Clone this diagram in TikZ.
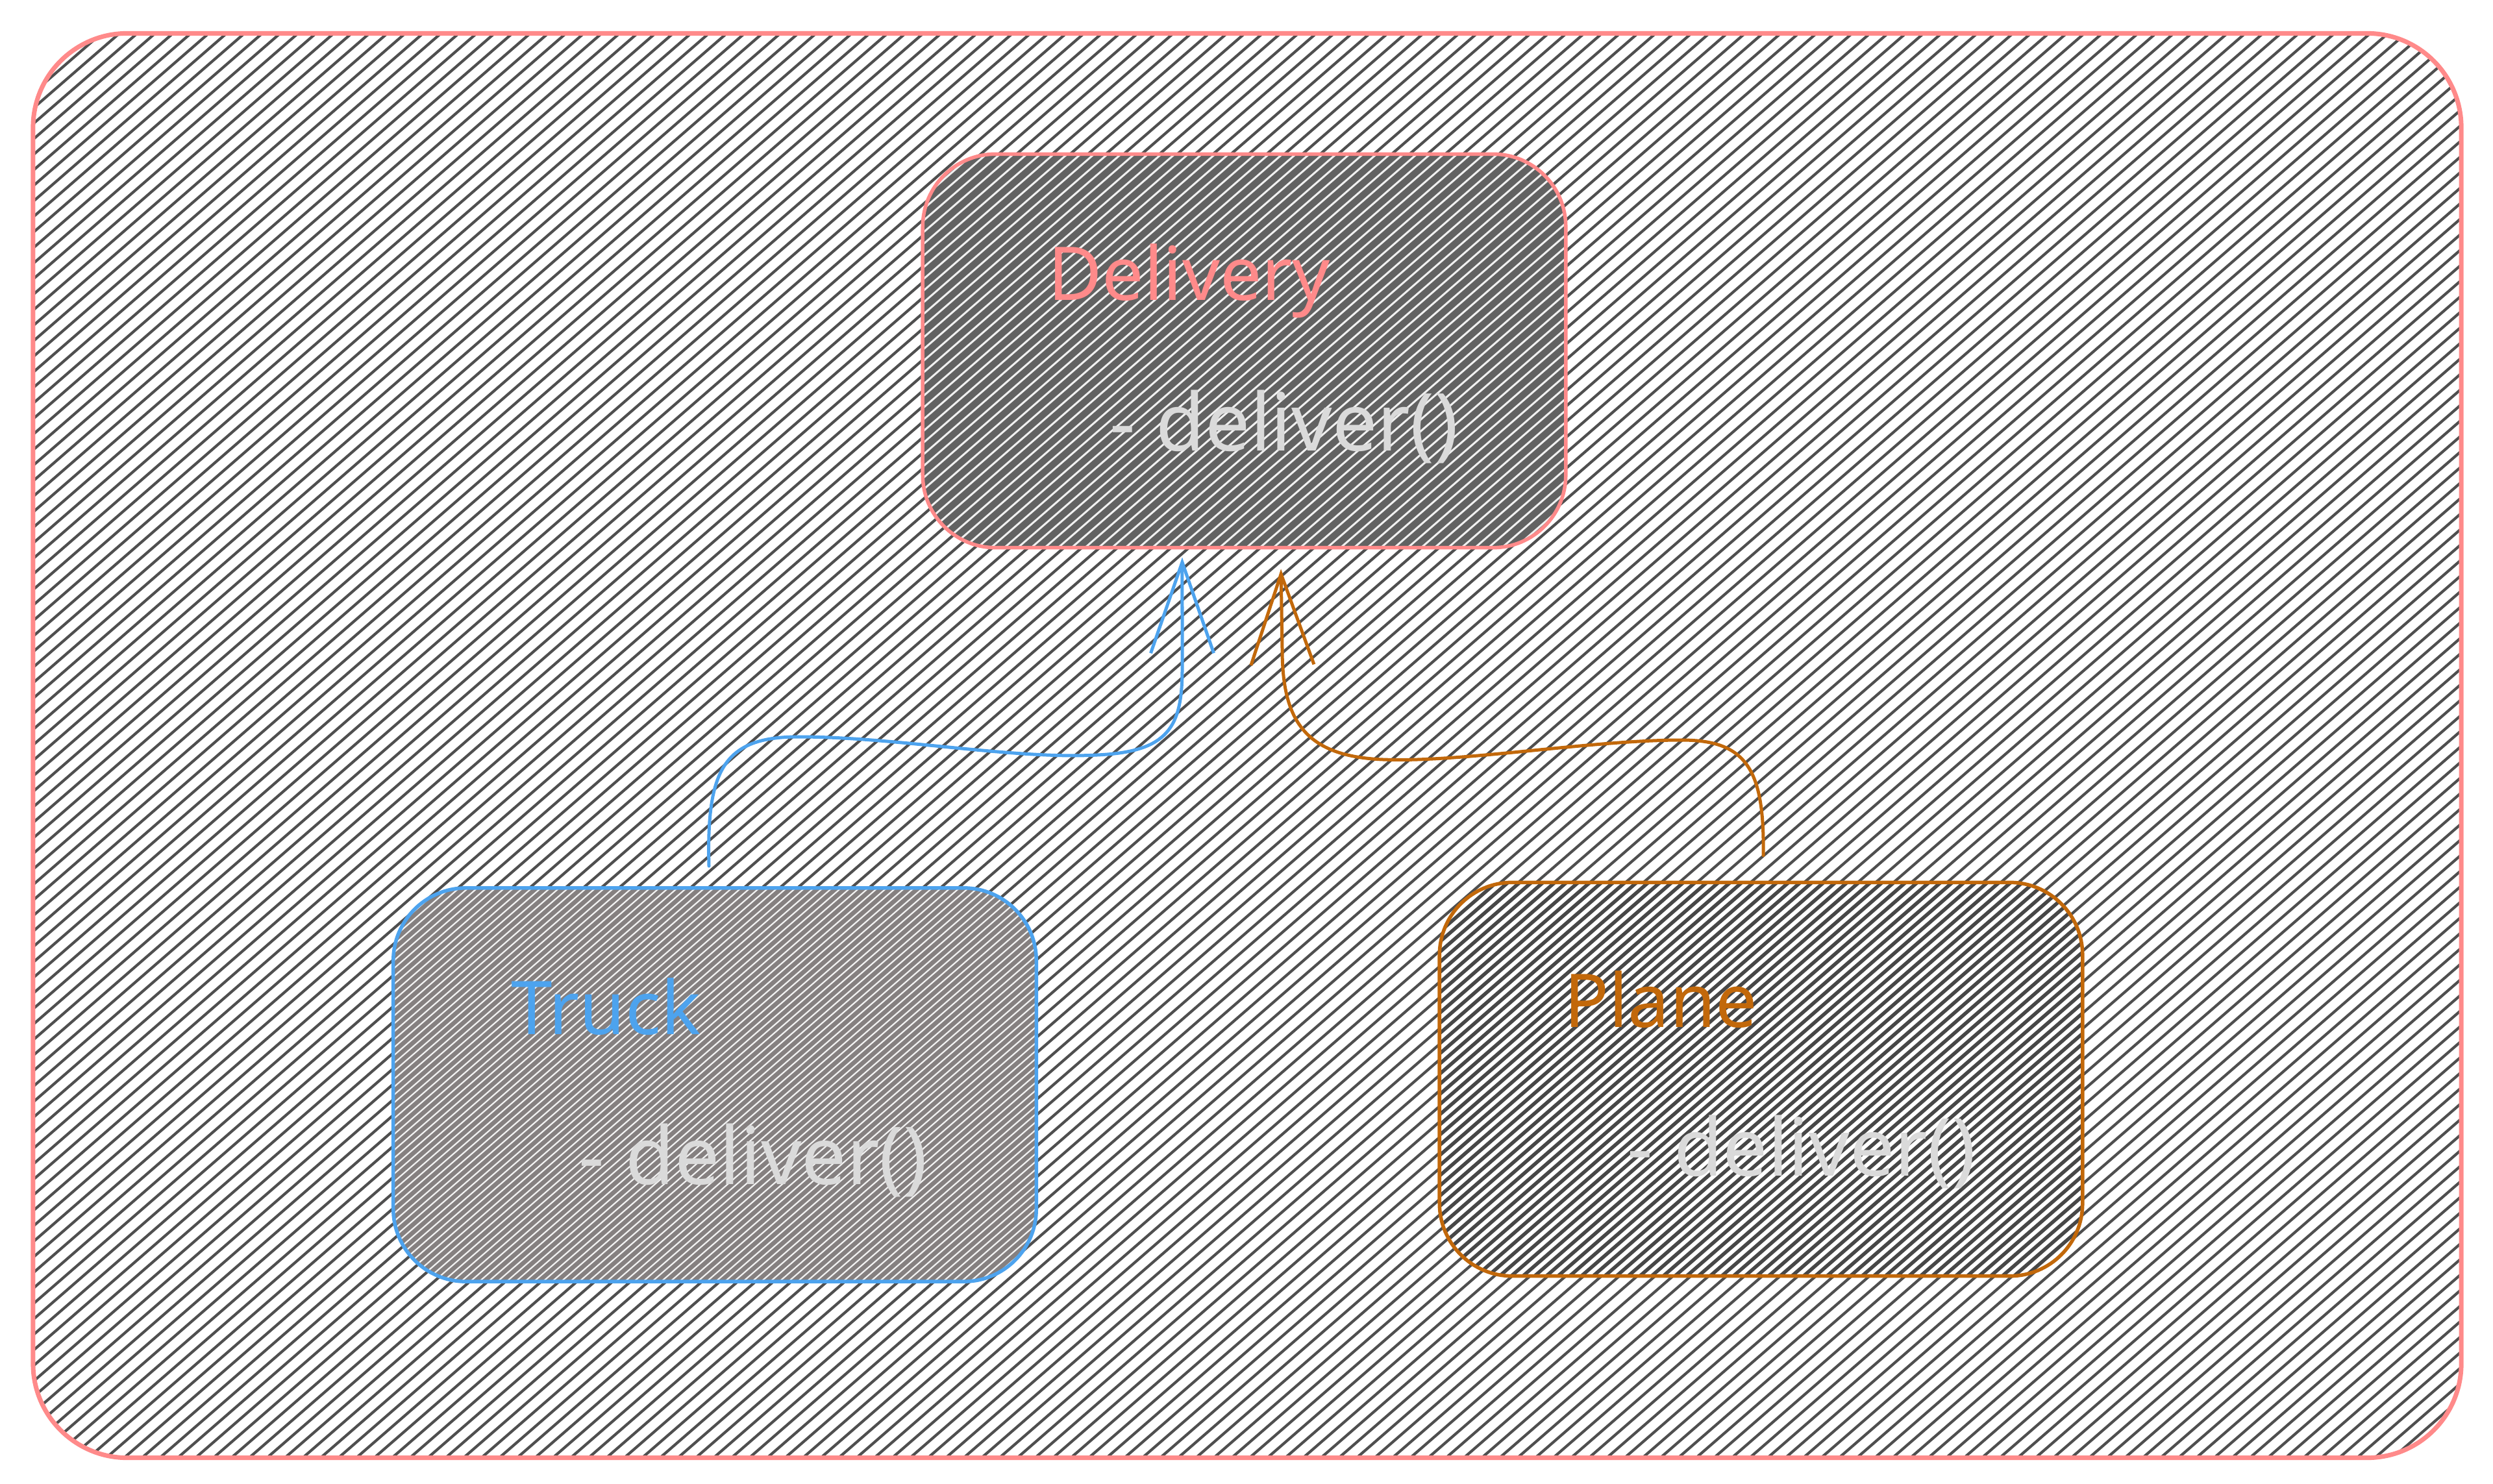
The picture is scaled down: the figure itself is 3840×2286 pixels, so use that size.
\documentclass[tikz,border=0pt]{standalone}
\usepackage{fontspec}
\setmainfont{Noto Sans}
\usetikzlibrary{positioning,arrows.meta}
\definecolor{framered}{HTML}{FF8A8A}
\definecolor{truckblue}{HTML}{4DA3EE}
\definecolor{planeorange}{HTML}{C2680A}
\definecolor{hatchgrey}{HTML}{4F4F4F}
\definecolor{deliverygrey}{HTML}{626262}
\definecolor{truckgrey}{HTML}{858080}
\definecolor{methodgrey}{HTML}{DADADA}

% hatch lines at 41 degrees through the path picture: spacing, first, last, half length, style
\newcommand{\hatchlines}[5]{%
  \foreach \k in {#2,...,#3}
    \draw[#5] ([xshift=\k*#1]path picture bounding box.center) +(41:#4) -- +(221:#4);}

\begin{document}
\begin{tikzpicture}[x=0.01cm,y=-0.01cm,
  outerframe/.style={draw=framered, line width=0.07cm, rounded corners=1.45cm,
    minimum width=37.38cm, minimum height=21.93cm,
    path picture={\hatchlines{0.275cm}{-118}{118}{26cm}{hatchgrey, line width=0.042cm}}},
  classbox/.style={rounded corners=1.12cm, minimum width=9.9cm, minimum height=6.06cm, line width=0.055cm},
  classname/.style={font=\fontsize{32.5}{39}\selectfont, inner sep=0pt, anchor=base west},
  methodtext/.style={font=\fontsize{35}{42}\selectfont, text=methodgrey, inner sep=0pt, anchor=base west},
  inherit/.style={line width=0.05cm, line cap=round, -{Straight Barb[length=1.4cm, width=0.97cm]}}]
\useasboundingbox (0,0) rectangle (3840,2286);

\node[outerframe] (frame) at (1921,1148.5) {};

% classes
\node[classbox, draw=framered, fill=deliverygrey,
  path picture={\hatchlines{0.207cm}{-45}{45}{7cm}{white!88!gray, line width=0.03cm}}] (delivery) at (1916.5,540.5) {};
\node[classbox, draw=truckblue, fill=truckgrey,
  path picture={\hatchlines{0.14cm}{-64}{64}{7cm}{white!90!gray, line width=0.022cm}}] (truck) at (1101,1671) {};
\node[classbox, draw=planeorange, fill=white,
  path picture={\hatchlines{0.18cm}{-50}{50}{7cm}{hatchgrey!90!black, line width=0.055cm}}] (plane) at (2712.5,1662.5) {};

\node[classname, text=framered] (deliveryname) at ([xshift=1.95cm, yshift=-2.28cm]delivery.north west) {Delivery};
\node[methodtext] (deliverymethod) at ([xshift=2.9cm, yshift=-4.6cm]delivery.north west) {- deliver()};
\node[classname, text=truckblue] (truckname) at ([xshift=1.84cm, yshift=-2.28cm]truck.north west) {Truck};
\node[methodtext] (truckmethod) at ([xshift=2.88cm, yshift=-4.59cm]truck.north west) {- deliver()};
\node[classname, text=planeorange] (planename) at ([xshift=1.94cm, yshift=-2.26cm]plane.north west) {Plane};
\node[methodtext] (planemethod) at ([xshift=2.91cm, yshift=-4.55cm]plane.north west) {- deliver()};

% inheritance
\draw[inherit, truckblue] ([shift={(-0.09cm,0.31cm)}]truck.north)
  .. controls (1088,1185) and (1115,1135) .. (1230,1135)
  .. controls (1380,1135) and (1560,1170) .. (1690,1163)
  .. controls (1800,1158) and (1821,1120) .. (1821,1030)
  -- ([shift={(-0.955cm,-0.12cm)}]delivery.south);
\draw[inherit, planeorange] ([shift={(0.035cm,0.39cm)}]plane.north)
  .. controls (2718,1185) and (2690,1140) .. (2590,1140)
  .. controls (2450,1140) and (2250,1175) .. (2130,1170)
  .. controls (2010,1165) and (1975,1110) .. (1975,1000)
  -- ([shift={(0.565cm,-0.30cm)}]delivery.south);
\end{tikzpicture}
\end{document}
